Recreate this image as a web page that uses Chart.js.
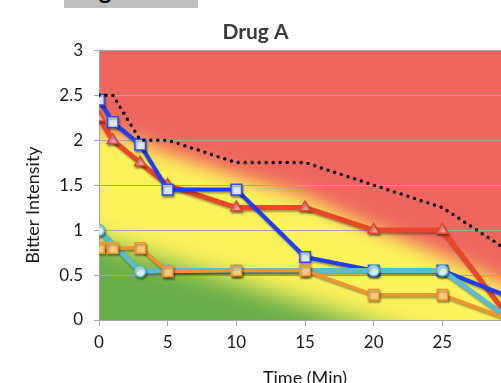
<!DOCTYPE html>
<html><head><meta charset="utf-8">
<script src="https://cdn.jsdelivr.net/npm/chart.js@4"></script>
<style>
html,body{margin:0;padding:0;background:#fff;overflow:hidden;width:501px;height:383px;position:relative;}
#wrap{position:absolute;left:0;top:0;width:586px;height:400px;}
#tab{position:absolute;left:64px;top:0;width:134px;height:8px;background:#bfbfbf;overflow:hidden;}
#tab span{position:absolute;left:15px;top:-22px;font:bold 24px Lato;line-height:24px;color:#000;white-space:nowrap;}
</style></head>
<body>
<div id="wrap"><canvas id="c" width="586" height="400"></canvas></div>
<div id="tab"><span>Fig</span></div>
<script>
// ---- data ----
const times = [0, 1, 3, 5, 10, 15, 20, 25, 30];
const blueSeries = [2.45, 2.2, 1.95, 1.45, 1.45, 0.7, 0.55, 0.55, 0.25];
const redSeries = [2.25, 2.0, 1.75, 1.5, 1.25, 1.25, 1.0, 1.0, 0.0];
const cyanSeries = [1.0, null, 0.54, 0.55, 0.55, 0.55, 0.55, 0.55, 0.0];
const orangeSeries = [0.8, 0.8, 0.8, 0.54, 0.55, 0.55, 0.28, 0.28, 0.0];
const thresholdSeries = [2.5, 2.5, 2.0, 2.0, 1.75, 1.75, 1.5, 1.25, 0.75];
// background zone boundaries
const zoneX = [-5, 0, 5, 10, 15, 20, 25, 30, 35];
const redZoneEdge = [2.45, 2.15, 1.85, 1.6, 1.37, 1.02, 0.72, 0.38, 0.05];
const greenZoneEdge = [1.1, 0.88, 0.64, 0.42, 0.18, -0.05, -0.3, -0.5, -0.7];
const yTitle = 'Bitter Intensity';

const toPts = arr => times.map((t, i) => ({x: t, y: arr[i]}));

const zonesPlugin = {
  id: 'zones',
  beforeDraw(chart) {
    const {ctx, chartArea: a, scales: {x, y}} = chart;
    ctx.save();
    ctx.beginPath(); ctx.rect(a.left, a.top, a.right - a.left, a.bottom - a.top); ctx.clip();
    ctx.fillStyle = '#fbf25c';
    ctx.fillRect(a.left, a.top, a.right - a.left, a.bottom - a.top);
    // red zone
    ctx.filter = 'blur(9px)';
    ctx.fillStyle = '#ee665e';
    ctx.beginPath();
    ctx.moveTo(x.getPixelForValue(zoneX[0]), a.top - 60);
    zoneX.forEach((v, i) => ctx.lineTo(x.getPixelForValue(v), y.getPixelForValue(redZoneEdge[i])));
    ctx.lineTo(x.getPixelForValue(zoneX[zoneX.length - 1]), a.top - 60);
    ctx.closePath(); ctx.fill();
    // green zone
    ctx.filter = 'blur(12px)';
    ctx.fillStyle = '#67ad4a';
    ctx.beginPath();
    ctx.moveTo(x.getPixelForValue(zoneX[0]), a.bottom + 60);
    zoneX.forEach((v, i) => ctx.lineTo(x.getPixelForValue(v), y.getPixelForValue(greenZoneEdge[i])));
    ctx.lineTo(x.getPixelForValue(zoneX[zoneX.length - 1]), a.bottom + 60);
    ctx.closePath(); ctx.fill();
    ctx.restore();
  },
  beforeDatasetDraw(chart, args) {
    const ctx = chart.ctx;
    ctx.save();
    if (args.meta.dataset && args.meta._dataset.shadow) {
      ctx.shadowColor = 'rgba(0,0,0,0.35)';
      ctx.shadowOffsetX = 1; ctx.shadowOffsetY = 2; ctx.shadowBlur = 2;
    }
  },
  afterDatasetDraw(chart) { chart.ctx.restore(); },
  afterDraw(chart) {
    const ctx = chart.ctx;
    ctx.save();
    ctx.translate(33, 205);
    ctx.rotate(-Math.PI / 2);
    ctx.font = '18px Lato';
    ctx.fillStyle = '#1a1a1a';
    ctx.textAlign = 'center'; ctx.textBaseline = 'middle';
    ctx.fillText(yTitle, 0, 0);
    ctx.restore();
  }
};

new Chart(document.getElementById('c'), {
  type: 'line',
  data: {
    datasets: [
      {data: toPts(thresholdSeries), borderColor: '#000', borderWidth: 3.5, borderDash: [0, 7], borderCapStyle: 'round', pointRadius: 0, order: 0, shadow: false},
      {data: toPts(orangeSeries), borderColor: '#f19331', borderWidth: 3.5, pointStyle: 'rect', pointRadius: 7.5, pointBackgroundColor: '#fcca78', pointBorderColor: '#f0922e', pointBorderWidth: 1.5, order: 1, shadow: true},
      {data: toPts(cyanSeries), borderColor: '#5bbccf', borderWidth: 5, pointStyle: 'circle', pointRadius: 5.5, pointBackgroundColor: '#d7eff5', pointBorderColor: '#5bbccf', pointBorderWidth: 1.5, spanGaps: true, order: 2, shadow: true},
      {data: toPts(blueSeries), borderColor: '#1f3dff', borderWidth: 4, pointStyle: 'rect', pointRadius: 7.5, pointBackgroundColor: '#dbe8f7', pointBorderColor: '#2a4bff', pointBorderWidth: 1.5, order: 3, shadow: true},
      {data: toPts(redSeries), borderColor: '#e9462c', borderWidth: 5, pointStyle: 'triangle', pointRadius: 6.5, pointBackgroundColor: '#f4a19a', pointBorderColor: '#e9462c', pointBorderWidth: 1.5, order: 4, shadow: true}
    ]
  },
  options: {
    responsive: false, animation: false, devicePixelRatio: 1,
    layout: {padding: {left: 0, right: 75, top: 0, bottom: 0}},
    plugins: {
      legend: {display: false}, tooltip: {enabled: false},
      title: {display: true, text: 'Drug A', color: '#3a3a3a', font: {family: 'Lato', size: 21, weight: 'bold'}, padding: {top: 20, bottom: 5}}
    },
    scales: {
      x: {type: 'linear', min: 0, max: 30,
        ticks: {stepSize: 5, font: {family: 'Lato', size: 17}, color: '#1a1a1a', padding: 6},
        grid: {drawOnChartArea: false, color: '#a6a6a6', tickLength: 6},
        border: {color: '#a6a6a6'},
        title: {display: true, text: 'Time (Min)', font: {family: 'Lato', size: 18}, color: '#1a1a1a', padding: {top: 4, bottom: 11}},
        afterFit(s) { s.height = 80; }
      },
      y: {min: 0, max: 3,
        ticks: {stepSize: 0.5, font: {family: 'Lato', size: 17}, color: '#1a1a1a', padding: 11, callback: v => String(v)},
        grid: {color: '#a6a6a6', tickLength: 5},
        border: {color: '#a6a6a6'},
        afterFit(s) { s.width = 99; }
      }
    }
  },
  plugins: [zonesPlugin]
});
</script>
</body></html>
